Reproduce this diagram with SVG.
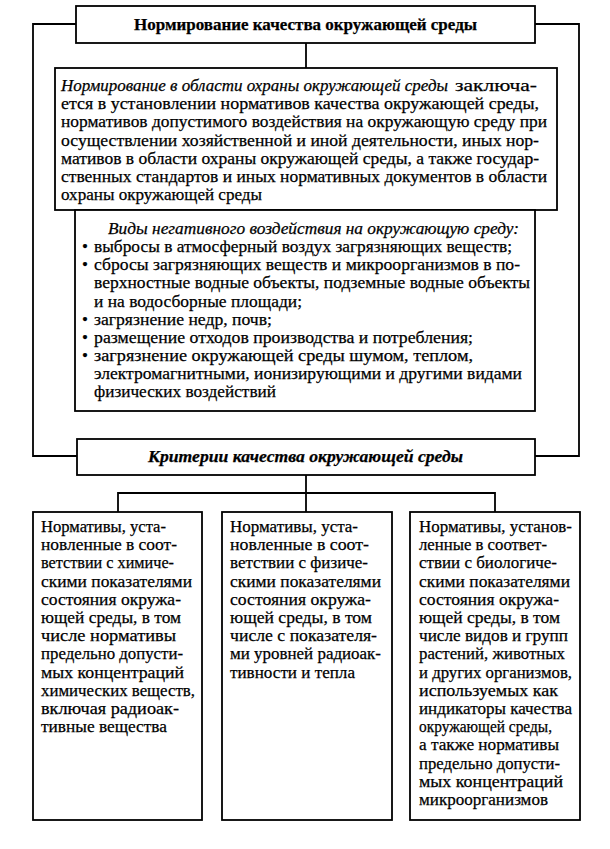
<svg xmlns="http://www.w3.org/2000/svg" width="610" height="849" viewBox="0 0 610 849">
<style>
.box{fill:#fff;stroke:#000;stroke-width:1.8}
.ln{fill:none;stroke:#000;stroke-width:1.8}
text{font-family:"Liberation Serif","Times New Roman",serif;font-size:17px;fill:#000;stroke:#000;stroke-width:0.25}
.b{font-weight:bold}
.i{font-style:italic}
.c{text-anchor:middle}
</style>
<rect width="610" height="849" fill="#fff"/>
<g id="connectors">
<polyline class="ln" points="76,24 33,24 33,456 77,456"/>
<polyline class="ln" points="535,24 579,24 579,456 535,456"/>
<line class="ln" x1="306" y1="43" x2="306" y2="68"/>
<line class="ln" x1="306" y1="475" x2="306" y2="493"/>
<polyline class="ln" points="118,512 118,493 495,493 495,512"/>
<line class="ln" x1="306" y1="493" x2="306" y2="512"/>
</g>
<g id="title">
<rect class="box" x="76" y="6" width="459" height="37"/>
<text class="b c" x="305.5" y="30" textLength="343" lengthAdjust="spacingAndGlyphs">Нормирование качества окружающей среды</text>
</g>
<g id="definition">
<rect class="box" x="55" y="68" width="502" height="142"/>
<text class="i" x="61" y="91" textLength="387" lengthAdjust="spacingAndGlyphs">Нормирование в области охраны окружающей среды</text>
<text x="455" y="91" textLength="82" lengthAdjust="spacingAndGlyphs">заключа-</text>
<text x="61" y="109.2" textLength="478" lengthAdjust="spacingAndGlyphs">ется в установлении нормативов качества окружающей среды,</text>
<text x="61" y="127.4" textLength="486" lengthAdjust="spacingAndGlyphs">нормативов допустимого воздействия на окружающую среду при</text>
<text x="61" y="145.6" textLength="478" lengthAdjust="spacingAndGlyphs">осуществлении хозяйственной и иной деятельности, иных нор-</text>
<text x="61" y="163.8" textLength="478" lengthAdjust="spacingAndGlyphs">мативов в области охраны окружающей среды, а также государ-</text>
<text x="61" y="182" textLength="486" lengthAdjust="spacingAndGlyphs">ственных стандартов и иных нормативных документов в области</text>
<text x="61" y="200.2" textLength="201" lengthAdjust="spacingAndGlyphs">охраны окружающей среды</text>
</g>
<g id="impacts">
<rect class="box" x="75" y="210" width="460" height="201"/>
<text class="i" x="108" y="234" textLength="411" lengthAdjust="spacingAndGlyphs">Виды негативного воздействия на окружающую среду:</text>
<text x="82" y="252">•</text>
<text x="94" y="252" textLength="418" lengthAdjust="spacingAndGlyphs">выбросы в атмосферный воздух загрязняющих веществ;</text>
<text x="82" y="270">•</text>
<text x="94" y="270" textLength="426" lengthAdjust="spacingAndGlyphs">сбросы загрязняющих веществ и микроорганизмов в по-</text>
<text x="94" y="288" textLength="436" lengthAdjust="spacingAndGlyphs">верхностные водные объекты, подземные водные объекты</text>
<text x="94" y="306.5" textLength="208" lengthAdjust="spacingAndGlyphs">и на водосборные площади;</text>
<text x="82" y="324.5">•</text>
<text x="94" y="324.5" textLength="178" lengthAdjust="spacingAndGlyphs">загрязнение недр, почв;</text>
<text x="82" y="342.5">•</text>
<text x="94" y="342.5" textLength="379" lengthAdjust="spacingAndGlyphs">размещение отходов производства и потребления;</text>
<text x="82" y="361">•</text>
<text x="94" y="361" textLength="379" lengthAdjust="spacingAndGlyphs">загрязнение окружающей среды шумом, теплом,</text>
<text x="94" y="379" textLength="428" lengthAdjust="spacingAndGlyphs">электромагнитными, ионизирующими и другими видами</text>
<text x="94" y="397" textLength="182" lengthAdjust="spacingAndGlyphs">физических воздействий</text>
</g>
<g id="criteria">
<rect class="box" x="77" y="439" width="458" height="36"/>
<text class="b i c" x="305.5" y="462" textLength="315" lengthAdjust="spacingAndGlyphs">Критерии качества окружающей среды</text>
</g>
<g id="chemical">
<rect class="box" x="33" y="512" width="169" height="308"/>
<text x="41" y="532" textLength="125" lengthAdjust="spacingAndGlyphs">Нормативы, уста-</text>
<text x="41" y="550.2" textLength="136" lengthAdjust="spacingAndGlyphs">новленные в соот-</text>
<text x="41" y="568.4" textLength="133" lengthAdjust="spacingAndGlyphs">ветствии с химиче-</text>
<text x="41" y="586.6" textLength="151" lengthAdjust="spacingAndGlyphs">скими показателями</text>
<text x="41" y="604.8" textLength="140" lengthAdjust="spacingAndGlyphs">состояния окружа-</text>
<text x="41" y="623" textLength="140" lengthAdjust="spacingAndGlyphs">ющей среды, в том</text>
<text x="41" y="641.2" textLength="135" lengthAdjust="spacingAndGlyphs">числе нормативы</text>
<text x="41" y="659.4" textLength="142" lengthAdjust="spacingAndGlyphs">предельно допусти-</text>
<text x="41" y="677.6" textLength="143" lengthAdjust="spacingAndGlyphs">мых концентраций</text>
<text x="41" y="695.8" textLength="154" lengthAdjust="spacingAndGlyphs">химических веществ,</text>
<text x="41" y="714" textLength="138" lengthAdjust="spacingAndGlyphs">включая радиоак-</text>
<text x="41" y="732.2" textLength="126" lengthAdjust="spacingAndGlyphs">тивные вещества</text>
</g>
<g id="physical">
<rect class="box" x="222" y="512" width="170" height="308"/>
<text x="230" y="532" textLength="128" lengthAdjust="spacingAndGlyphs">Нормативы, уста-</text>
<text x="230" y="550.2" textLength="139" lengthAdjust="spacingAndGlyphs">новленные в соот-</text>
<text x="230" y="568.4" textLength="138" lengthAdjust="spacingAndGlyphs">ветствии с физиче-</text>
<text x="230" y="586.6" textLength="151" lengthAdjust="spacingAndGlyphs">скими показателями</text>
<text x="230" y="604.8" textLength="141" lengthAdjust="spacingAndGlyphs">состояния окружа-</text>
<text x="230" y="623" textLength="142" lengthAdjust="spacingAndGlyphs">ющей среды, в том</text>
<text x="230" y="641.2" textLength="147" lengthAdjust="spacingAndGlyphs">числе с показателя-</text>
<text x="230" y="659.4" textLength="151" lengthAdjust="spacingAndGlyphs">ми уровней радиоак-</text>
<text x="230" y="677.6" textLength="125" lengthAdjust="spacingAndGlyphs">тивности и тепла</text>
</g>
<g id="biological">
<rect class="box" x="410" y="512" width="170" height="308"/>
<text x="419" y="532" textLength="153" lengthAdjust="spacingAndGlyphs">Нормативы, установ-</text>
<text x="419" y="550.2" textLength="128" lengthAdjust="spacingAndGlyphs">ленные в соответ-</text>
<text x="419" y="568.4" textLength="138" lengthAdjust="spacingAndGlyphs">ствии с биологиче-</text>
<text x="419" y="586.6" textLength="151" lengthAdjust="spacingAndGlyphs">скими показателями</text>
<text x="419" y="604.8" textLength="140" lengthAdjust="spacingAndGlyphs">состояния окружа-</text>
<text x="419" y="623" textLength="141" lengthAdjust="spacingAndGlyphs">ющей среды, в том</text>
<text x="419" y="641.2" textLength="149" lengthAdjust="spacingAndGlyphs">числе видов и групп</text>
<text x="419" y="659.4" textLength="146" lengthAdjust="spacingAndGlyphs">растений, животных</text>
<text x="419" y="677.6" textLength="153" lengthAdjust="spacingAndGlyphs">и других организмов,</text>
<text x="419" y="695.8" textLength="139" lengthAdjust="spacingAndGlyphs">используемых как</text>
<text x="419" y="714" textLength="153" lengthAdjust="spacingAndGlyphs">индикаторы качества</text>
<text x="419" y="732.2" textLength="133" lengthAdjust="spacingAndGlyphs">окружающей среды,</text>
<text x="419" y="750.4" textLength="140" lengthAdjust="spacingAndGlyphs">а также нормативы</text>
<text x="419" y="768.6" textLength="141" lengthAdjust="spacingAndGlyphs">предельно допусти-</text>
<text x="419" y="786.8" textLength="144" lengthAdjust="spacingAndGlyphs">мых концентраций</text>
<text x="419" y="805" textLength="129" lengthAdjust="spacingAndGlyphs">микроорганизмов</text>
</g>
</svg>
